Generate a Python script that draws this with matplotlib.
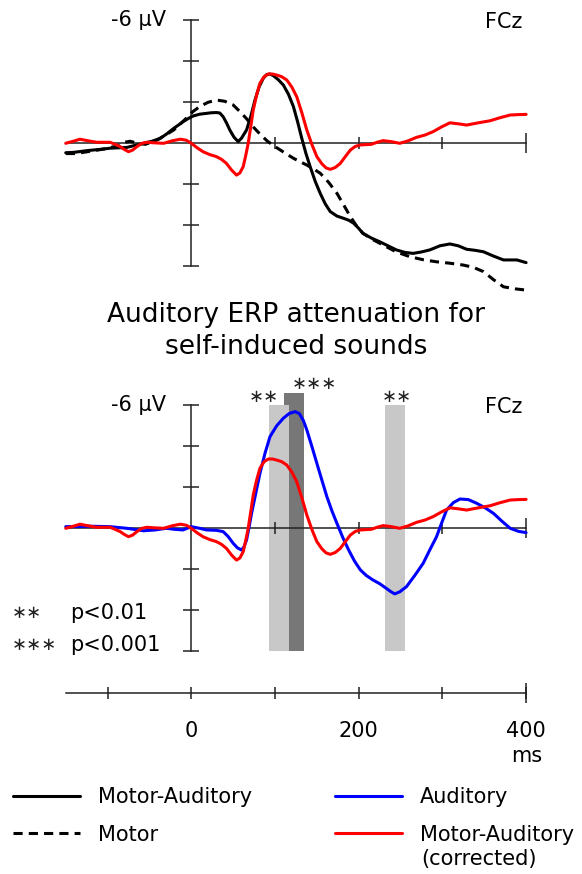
import matplotlib
matplotlib.use("Agg")
import matplotlib.pyplot as plt
from matplotlib.ticker import FixedLocator, NullFormatter

plt.rcParams['font.family'] = ['DejaVu Sans']

# ERP traces at FCz, time in ms, amplitude in µV (negative up)
t_motor_aud = [-150, -140, -125, -110, -97, -87, -77, -67, -57, -47, -37, -29, -21, -15,
               -10, -4, 2, 10, 18, 24, 30, 34, 38, 42, 46, 51, 56, 60, 66, 71, 76, 81, 86,
               90, 94, 98, 104, 110, 116, 122, 127, 132, 137, 142, 148, 154, 160, 166,
               174, 182, 188, 194, 200, 205, 215, 225, 235, 245, 255, 265, 275, 285, 297,
               309, 319, 329, 339, 349, 361, 373, 389, 400]
v_motor_aud = [0.46, 0.44, 0.36, 0.3, 0.24, 0.22, 0.2, 0.1, 0.0, -0.1, -0.24, -0.47,
               -0.73, -0.9, -1.05, -1.2, -1.33, -1.42, -1.46, -1.49, -1.5, -1.48, -1.3,
               -1.0, -0.65, -0.3, -0.08, -0.25, -0.65, -1.3, -2.1, -2.75, -3.17, -3.35,
               -3.38, -3.3, -3.1, -2.84, -2.4, -1.79, -1.05, -0.24, 0.5, 1.14, 1.85, 2.44,
               2.95, 3.33, 3.55, 3.66, 3.75, 3.9, 4.15, 4.39, 4.62, 4.8, 5.0, 5.2, 5.32,
               5.37, 5.3, 5.2, 5.0, 4.91, 5.0, 5.17, 5.22, 5.29, 5.5, 5.69, 5.69, 5.82]

t_motor = [-150, -140, -130, -115, -100, -87, -80, -73, -64, -55, -48, -41, -31, -21, -13,
           -6, 2, 10, 20, 30, 40, 50, 58, 66, 74, 82, 91, 100, 111, 122, 130, 138, 146,
           154, 164, 174, 182, 190, 197, 205, 217, 229, 245, 261, 277, 293, 309, 325, 337,
           349, 361, 373, 387, 400]
v_motor = [0.5, 0.5, 0.45, 0.35, 0.25, 0.1, -0.05, -0.1, 0.0, 0.05, -0.05, -0.16, -0.4,
           -0.65, -0.95, -1.22, -1.55, -1.79, -2.0, -2.11, -2.05, -1.87, -1.55, -1.2, -0.8,
           -0.45, -0.1, 0.16, 0.45, 0.73, 0.9, 1.06, 1.25, 1.46, 1.9, 2.44, 3.0, 3.58,
           4.0, 4.39, 4.7, 4.96, 5.3, 5.53, 5.68, 5.78, 5.85, 5.94, 6.05, 6.26, 6.65, 7.0,
           7.1, 7.16]

t_corrected = [-150, -141, -133, -123, -113, -97, -91, -85, -80, -75, -70, -65, -59, -53,
               -43, -33, -23, -13, -6, 0, 7, 14, 22, 30, 36, 42, 48, 54, 58, 62, 65, 68,
               71, 74, 78, 82, 87, 92, 97, 102, 108, 114, 120, 126, 132, 138, 144, 150,
               156, 161, 166, 172, 178, 184, 190, 196, 202, 215, 222, 229, 239, 249, 259,
               269, 279, 289, 299, 309, 319, 329, 343, 357, 369, 381, 391, 400]
v_corrected = [0.0, -0.1, -0.2, -0.12, -0.05, -0.05, 0.05, 0.16, 0.3, 0.41, 0.33, 0.16,
               0.0, -0.05, -0.02, 0.0, -0.12, -0.2, -0.15, 0.0, 0.22, 0.41, 0.55, 0.65,
               0.78, 0.98, 1.3, 1.55, 1.45, 1.14, 0.6, 0.0, -0.8, -1.62, -2.35, -2.93,
               -3.25, -3.38, -3.38, -3.33, -3.25, -3.09, -2.75, -2.27, -1.5, -0.65, 0.05,
               0.65, 1.0, 1.2, 1.27, 1.18, 0.98, 0.65, 0.33, 0.15, 0.08, 0.05, -0.05,
               -0.13, -0.08, 0.0, -0.12, -0.29, -0.4, -0.57, -0.8, -1.0, -0.95, -0.89,
               -1.0, -1.1, -1.25, -1.38, -1.4, -1.41]

t_auditory = [-150, -120, -97, -77, -57, -43, -30, -20, -10, 0, 10, 18, 30, 38, 44, 50,
              55, 60, 63, 66, 69, 72, 77, 82, 88, 94, 102, 110, 117, 124, 129, 134, 138,
              144, 150, 156, 162, 168, 174, 181, 188, 195, 202, 209, 217, 225, 233, 238,
              243, 249, 257, 267, 277, 285, 293, 299, 305, 313, 321, 331, 341, 351, 361,
              371, 381, 391, 400]
v_auditory = [-0.08, -0.1, -0.08, 0.0, 0.12, 0.08, 0.0, 0.05, 0.08, -0.08, 0.0, 0.08,
              0.1, 0.16, 0.4, 0.73, 0.95, 1.06, 0.9, 0.57, -0.05, -0.73, -1.7, -2.68,
              -3.65, -4.47, -5.0, -5.37, -5.6, -5.69, -5.6, -5.25, -4.8, -4.0, -3.17,
              -2.35, -1.54, -0.85, -0.24, 0.45, 1.06, 1.6, 2.03, 2.3, 2.52, 2.7, 2.93,
              3.08, 3.2, 3.1, 2.85, 2.3, 1.71, 1.05, 0.41, -0.25, -0.89, -1.25, -1.43,
              -1.4, -1.22, -1.0, -0.73, -0.35, 0.0, 0.15, 0.21]

# significant windows (ms) and their star labels
sig_start = [111, 93, 231]
sig_end = [135, 117, 255]
sig_top = [-6.6, -6.0, -6.0]
sig_shade = ['#777777', '#c8c8c8', '#c8c8c8']
sig_stars = ['∗∗∗', '∗∗', '∗∗']
star_t = [147, 87, 245]
star_v = [-7.05, -6.42, -6.4]

amp_ticks = [-6, -4, -2, 2, 4, 6]
time_ticks = [-100, 0, 100, 200, 300, 400]
time_labels = ['', '0', '', '200', '', '400']

W, H = 582, 874
X0, PX_MS, PX_UV = 191.3, 0.837, 20.5
T_LIM = (-160, 410)
AX_COL = '#222222'
LW = 2.2


def fig_xy(x, y):
    return x / W, 1 - y / H


def make_panel(zero_px, v_top, v_bot):
    top = zero_px + v_top * PX_UV
    bot = zero_px + v_bot * PX_UV
    left = X0 + T_LIM[0] * PX_MS
    width = (T_LIM[1] - T_LIM[0]) * PX_MS
    ax = fig.add_axes([left / W, 1 - bot / H, width / W, (bot - top) / H])
    ax.set_xlim(*T_LIM)
    ax.set_ylim(v_bot, v_top)
    ax.patch.set_visible(False)
    for side in ['top', 'right']:
        ax.spines[side].set_visible(False)
    ax.spines['left'].set_position(('data', 0))
    ax.spines['bottom'].set_position(('data', 0))
    ax.spines['left'].set_bounds(-6, 6)
    ax.spines['bottom'].set_bounds(-150, 400)
    for side in ['left', 'bottom']:
        ax.spines[side].set_color(AX_COL)
        ax.spines[side].set_linewidth(1.1)
    ax.set_yticks(amp_ticks)
    ax.set_yticklabels([])
    ax.tick_params(axis='y', direction='inout', length=11.5, width=1.1, color=AX_COL)
    ax.xaxis.set_major_locator(FixedLocator([100, 200, 300]))
    ax.xaxis.set_minor_locator(FixedLocator([400]))
    ax.xaxis.set_major_formatter(NullFormatter())
    ax.tick_params(axis='x', which='major', direction='inout', length=8.6, width=1.1,
                   color=AX_COL)
    ax.tick_params(axis='x', which='minor', direction='inout', length=14.4, width=1.1,
                   color=AX_COL)
    ax.text(-30, -6, '-6 µV', ha='right', va='center', fontsize=15)
    ax.text(396, -5.9, 'FCz', ha='right', va='center', fontsize=15)
    return ax


fig = plt.figure(figsize=(W / 100, H / 100), dpi=100)
line_kw = dict(lw=LW, clip_on=False, solid_joinstyle='round', solid_capstyle='round')

# upper panel: raw motor-auditory vs motor, plus corrected difference
ax1 = make_panel(143.3, -6.9, 7.6)
line_ma, = ax1.plot(t_motor_aud, v_motor_aud, color='black', zorder=3, **line_kw)
line_motor, = ax1.plot(t_motor, v_motor, color='black', ls=(0, (3, 2)), zorder=3,
                       **line_kw)
ax1.plot(t_corrected, v_corrected, color='#ff0000', zorder=4, **line_kw)

fig.text(*fig_xy(296, 331), 'Auditory ERP attenuation for\nself-induced sounds',
         ha='center', va='center', fontsize=19, linespacing=1.25)

# lower panel: auditory vs corrected with significance windows
ax2 = make_panel(528.3, -7.6, 6.8)
for s, e, top, c in zip(sig_start, sig_end, sig_top, sig_shade):
    ax2.bar(s, 6 - top, width=e - s, bottom=top, align='edge', color=c, lw=0, zorder=1)
for lab, st, sv in zip(sig_stars, star_t, star_v):
    ax2.text(st, sv, lab, ha='center', va='center', fontsize=13, color='#222222')
line_aud, = ax2.plot(t_auditory, v_auditory, color='#0000ff', zorder=3, **line_kw)
line_corr, = ax2.plot(t_corrected, v_corrected, color='#ff0000', zorder=4, **line_kw)

fig.text(*fig_xy(12, 613), '∗∗', ha='left', va='center', fontsize=13, color='#222222')
fig.text(*fig_xy(70, 613), 'p<0.01', ha='left', va='center', fontsize=15)
fig.text(*fig_xy(12, 645), '∗∗∗', ha='left', va='center', fontsize=13, color='#222222')
fig.text(*fig_xy(70, 645), 'p<0.001', ha='left', va='center', fontsize=15)

# shared time axis
left = X0 + T_LIM[0] * PX_MS
width = (T_LIM[1] - T_LIM[0]) * PX_MS
ax3 = fig.add_axes([left / W, 1 - 693.3 / H, width / W, 0.01])
ax3.set_xlim(*T_LIM)
ax3.patch.set_visible(False)
for side in ['top', 'right', 'left']:
    ax3.spines[side].set_visible(False)
ax3.spines['bottom'].set_bounds(-150, 400)
ax3.spines['bottom'].set_color(AX_COL)
ax3.spines['bottom'].set_linewidth(1.1)
ax3.set_yticks([])
ax3.xaxis.remove_overlapping_locs = False
ax3.set_xticks(time_ticks)
ax3.set_xticklabels(time_labels, fontsize=15)
ax3.xaxis.set_minor_locator(FixedLocator([400]))
ax3.tick_params(axis='x', which='major', direction='inout', length=8.6, width=1.1,
                color=AX_COL, pad=15.5)
ax3.tick_params(axis='x', which='minor', direction='inout', length=14.4, width=1.1,
                color=AX_COL)
fig.text(*fig_xy(527, 756), 'ms', ha='center', va='center', fontsize=15)

fig.legend([line_ma, line_motor, line_aud, line_corr],
           ['Motor-Auditory', 'Motor', 'Auditory', 'Motor-Auditory'],
           ncol=2, loc='upper left', bbox_to_anchor=fig_xy(13, 787), frameon=False,
           fontsize=15, handlelength=3.2, handletextpad=0.88, columnspacing=3.98,
           labelspacing=0.85, borderpad=0, borderaxespad=0)
fig.text(*fig_xy(421, 859), '(corrected)', ha='left', va='center', fontsize=15)

fig.savefig('out.png', dpi=100)
